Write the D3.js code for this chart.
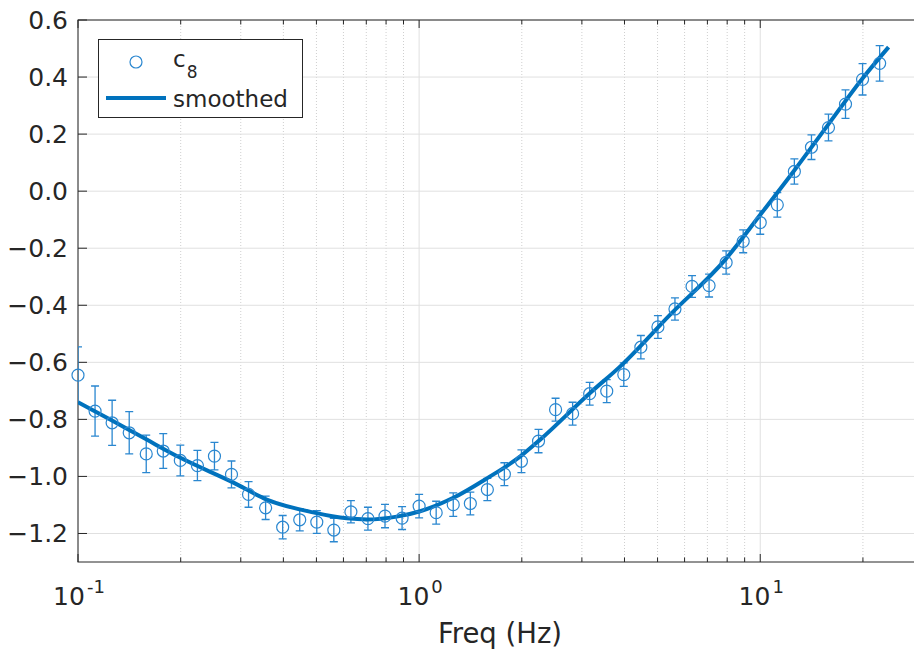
<!DOCTYPE html>
<html>
<head>
<meta charset="utf-8">
<script src="https://cdn.jsdelivr.net/npm/d3@7"></script>
<style>
  body { margin: 0; background: #fff; }
  svg { display: block; font-family: "DejaVu Sans", sans-serif; }
</style>
</head>
<body>
<div id="chart"></div>
<script>
// measured points (c8) with error bars
const freq = [0.1, 0.1122, 0.1259, 0.1413, 0.1585, 0.1778, 0.1995, 0.2239, 0.2512, 0.2818,
  0.3162, 0.3548, 0.3981, 0.4467, 0.5012, 0.5623, 0.6310, 0.7079, 0.7943, 0.8913,
  1.0, 1.122, 1.259, 1.413, 1.585, 1.778, 1.995, 2.239, 2.512, 2.818,
  3.162, 3.548, 3.981, 4.467, 5.012, 5.623, 6.310, 7.079, 7.943, 8.913,
  10.0, 11.22, 12.59, 14.13, 15.85, 17.78, 19.95, 22.39];
const c8 = [-0.645, -0.771, -0.812, -0.847, -0.921, -0.911, -0.944, -0.962, -0.929, -0.993,
  -1.063, -1.110, -1.178, -1.152, -1.160, -1.188, -1.124, -1.148, -1.139, -1.146,
  -1.104, -1.127, -1.099, -1.095, -1.046, -0.992, -0.947, -0.876, -0.766, -0.780,
  -0.710, -0.701, -0.643, -0.547, -0.476, -0.413, -0.334, -0.331, -0.250, -0.176,
  -0.110, -0.048, 0.069, 0.154, 0.223, 0.305, 0.392, 0.448];
const c8err = [0.099, 0.088, 0.079, 0.074, 0.066, 0.061, 0.054, 0.053, 0.048, 0.047,
  0.045, 0.041, 0.041, 0.039, 0.040, 0.041, 0.039, 0.040, 0.041, 0.040,
  0.041, 0.040, 0.041, 0.040, 0.039, 0.040, 0.040, 0.041, 0.040, 0.040,
  0.040, 0.040, 0.041, 0.041, 0.040, 0.039, 0.038, 0.040, 0.041, 0.040,
  0.041, 0.043, 0.044, 0.043, 0.047, 0.050, 0.055, 0.062];

// smoothed curve
const smoothFreq = [0.1, 0.1258, 0.159, 0.199, 0.2847, 0.3576, 0.4887, 0.614, 0.7026, 0.860,
  1.007, 1.26, 1.58, 1.98, 2.264, 3.152, 3.938, 5.445, 7.897, 10.0,
  12.50, 15.72, 19.78, 23.78];
const smoothVal = [-0.740, -0.804, -0.871, -0.934, -1.021, -1.081, -1.126, -1.147, -1.151, -1.141,
  -1.122, -1.075, -1.007, -0.930, -0.871, -0.710, -0.608, -0.433, -0.240, -0.083,
  0.068, 0.229, 0.390, 0.505];

const yTicks = [0.6, 0.4, 0.2, 0.0, -0.2, -0.4, -0.6, -0.8, -1.0, -1.2];
const xMajor = [0.1, 1, 10];
const xExp = ["-1", "0", "1"];

const width = 914, height = 652;
const margin = ({ top: 20, right: -9, bottom: 90, left: 78 });

const lineColor = "#0072BD", markColor = "#2a87d0", axisColor = "#262626";

const svg = d3.select("#chart")
  .append("svg")
  .attr("width", width)
  .attr("height", height);

const x = d3.scaleLog([0.1, 30], [margin.left, width - margin.right]);
const y = d3.scaleLinear([-1.3, 0.6], [height - margin.bottom, margin.top]);

const x0 = x.range()[0], x1 = x.range()[1];
const y0 = y.range()[0], y1 = y.range()[1];

// minor x values (2..9 of each decade inside the range)
const xMinor = [];
[0.1, 1, 10].forEach(dec => {
  for (let m = 2; m <= 9; m++) {
    const v = dec * m;
    if (v < 30) xMinor.push(v);
  }
});

svg.append("defs").append("clipPath").attr("id", "clip")
  .append("rect")
  .attr("x", x0).attr("y", y1)
  .attr("width", x1 - x0).attr("height", y0 - y1);

// grid
const grid = svg.append("g");
grid.selectAll(".minor")
  .data(xMinor)
  .join("line")
  .attr("x1", d => x(d)).attr("x2", d => x(d))
  .attr("y1", y1).attr("y2", y0)
  .attr("stroke", "#cfcfcf")
  .attr("stroke-width", 1)
  .attr("stroke-dasharray", "1,2");
grid.selectAll(".majx")
  .data(xMajor)
  .join("line")
  .attr("x1", d => x(d)).attr("x2", d => x(d))
  .attr("y1", y1).attr("y2", y0)
  .attr("stroke", "#e0e0e0");
grid.selectAll(".majy")
  .data(yTicks)
  .join("line")
  .attr("x1", x0).attr("x2", x1)
  .attr("y1", d => y(d)).attr("y2", d => y(d))
  .attr("stroke", "#e0e0e0");

// axes box with inward ticks
const axes = svg.append("g").attr("stroke", axisColor).attr("stroke-width", 1);
axes.append("rect")
  .attr("x", x0).attr("y", y1)
  .attr("width", x1 - x0).attr("height", y0 - y1)
  .attr("fill", "none");

yTicks.forEach(t => {
  axes.append("line").attr("x1", x0).attr("x2", x0 + 9).attr("y1", y(t)).attr("y2", y(t));
  axes.append("line").attr("x1", x1).attr("x2", x1 - 9).attr("y1", y(t)).attr("y2", y(t));
});
xMajor.forEach(t => {
  axes.append("line").attr("x1", x(t)).attr("x2", x(t)).attr("y1", y0).attr("y2", y0 - 8);
  axes.append("line").attr("x1", x(t)).attr("x2", x(t)).attr("y1", y1).attr("y2", y1 + 8);
});
xMinor.forEach(t => {
  axes.append("line").attr("x1", x(t)).attr("x2", x(t)).attr("y1", y0).attr("y2", y0 - 4.5);
  axes.append("line").attr("x1", x(t)).attr("x2", x(t)).attr("y1", y1).attr("y2", y1 + 4.5);
});

// tick labels
const fmt = d3.format(".1f");
svg.append("g")
  .selectAll("text")
  .data(yTicks)
  .join("text")
  .attr("x", x0 - 10)
  .attr("y", d => y(d) + 9)
  .attr("text-anchor", "end")
  .attr("font-size", 25)
  .attr("fill", axisColor)
  .text(d => fmt(d));

const xl = svg.append("g")
  .selectAll("text")
  .data(xMajor)
  .join("text")
  .attr("x", d => x(d) + 1)
  .attr("y", 605)
  .attr("text-anchor", "middle")
  .attr("font-size", 25)
  .attr("fill", axisColor);
xl.append("tspan").text("10");
xl.append("tspan")
  .attr("font-size", 18)
  .attr("dx", 2)
  .attr("dy", -12)
  .text((d, i) => xExp[i]);

svg.append("text")
  .attr("x", 500)
  .attr("y", 643)
  .attr("text-anchor", "middle")
  .attr("font-size", 27.5)
  .attr("fill", axisColor)
  .text("Freq (Hz)");

// error bars
const pts = freq.map((f, i) => ({ f: f, v: c8[i], e: c8err[i] }));
const eb = svg.append("g")
  .attr("clip-path", "url(#clip)")
  .attr("stroke", markColor)
  .attr("stroke-width", 1.3)
  .attr("fill", "none");
eb.selectAll(".bar")
  .data(pts)
  .join("path")
  .attr("d", d => {
    const cx = x(d.f), ya = y(d.v + d.e), yb = y(d.v - d.e);
    return `M${cx},${ya}V${yb}M${cx - 4},${ya}H${cx + 4}M${cx - 4},${yb}H${cx + 4}`;
  });

// smoothed line
const smooth = smoothFreq.map((f, i) => [f, smoothVal[i]]);
svg.append("path")
  .datum(smooth)
  .attr("clip-path", "url(#clip)")
  .attr("fill", "none")
  .attr("stroke", lineColor)
  .attr("stroke-width", 4)
  .attr("d", d3.line().x(d => x(d[0])).y(d => y(d[1])).curve(d3.curveMonotoneX));

// markers
svg.append("g")
  .selectAll("circle")
  .data(pts)
  .join("circle")
  .attr("cx", d => x(d.f))
  .attr("cy", d => y(d.v))
  .attr("r", 6)
  .attr("fill", "none")
  .attr("stroke", markColor)
  .attr("stroke-width", 1.2);

// legend
const lg = svg.append("g");
lg.append("rect")
  .attr("x", 98.5).attr("y", 39.5)
  .attr("width", 204).attr("height", 78)
  .attr("fill", "#fff")
  .attr("stroke", axisColor);
lg.append("circle")
  .attr("cx", 136).attr("cy", 62)
  .attr("r", 6)
  .attr("fill", "none")
  .attr("stroke", markColor)
  .attr("stroke-width", 1.2);
const lt = lg.append("text")
  .attr("x", 173).attr("y", 67)
  .attr("font-size", 23)
  .attr("fill", axisColor);
lt.append("tspan").text("c");
lt.append("tspan").attr("font-size", 17).attr("dx", 1).attr("dy", 11).text("8");
lg.append("line")
  .attr("x1", 106).attr("x2", 166)
  .attr("y1", 98).attr("y2", 98)
  .attr("stroke", lineColor)
  .attr("stroke-width", 4);
lg.append("text")
  .attr("x", 173).attr("y", 107)
  .attr("font-size", 23)
  .attr("fill", axisColor)
  .text("smoothed");
</script>
</body>
</html>
